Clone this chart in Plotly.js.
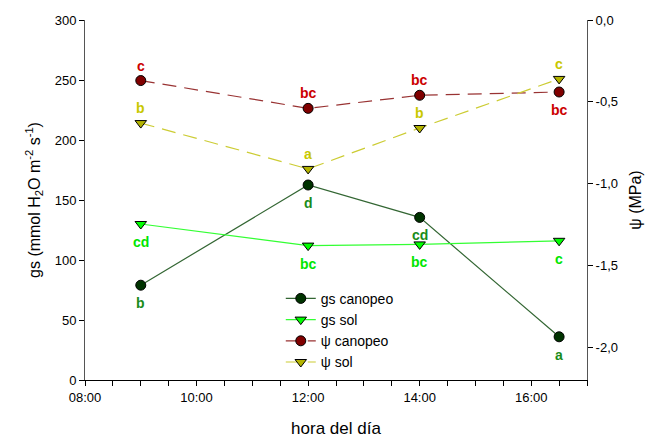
<!DOCTYPE html>
<html>
<head>
<meta charset="utf-8">
<script src="https://cdn.plot.ly/plotly-3.0.1.min.js"></script>
<style>html,body{margin:0;padding:0;background:#fff}#chart{width:657px;height:441px}</style>
</head>
<body>
<div id="chart"></div>
<script>
// --- data ---
var horas = ['2000-01-01 09:00', '2000-01-01 12:00', '2000-01-01 14:00', '2000-01-01 16:30'];
var gsCanopeo = [79, 162.5, 135.5, 36];
var gsSol = [130, 112, 113, 116];
var psiCanopeo = [-0.37, -0.54, -0.46, -0.44];
var psiSol = [-0.63, -0.91, -0.66, -0.36];

var letGsCanopeo = ['b', 'd', 'cd', 'a'];
var letGsSol = ['cd', 'bc', 'bc', 'c'];
var letPsiCanopeo = ['c', 'bc', 'bc', 'bc'];
var letPsiSol = ['b', 'a', 'b', 'c'];
// where each letter sits relative to its point
var posGsCanopeo = ['below', 'below', 'below', 'below'];
var posGsSol = ['below', 'below', 'below', 'below'];
var posPsiCanopeo = ['above', 'above', 'above', 'below'];
var posPsiSol = ['above', 'above', 'above', 'above'];

var y2Ticks = [0, -0.5, -1.0, -1.5, -2.0];
var y2TickText = ['0,0', '-0,5', '-1,0', '-1,5', '-2,0'];

// --- traces ---
var traces = [
  {x: horas, y: gsCanopeo, name: 'gs canopeo', mode: 'lines+markers', yaxis: 'y',
   line: {color: '#336633', width: 1.2},
   marker: {symbol: 'circle', size: 10, color: '#003300', line: {color: '#000', width: 1}}},
  {x: horas, y: gsSol, name: 'gs sol', mode: 'lines+markers', yaxis: 'y',
   line: {color: '#33ff33', width: 1.2},
   marker: {symbol: 'triangle-down', size: 10, color: '#00ff00', line: {color: '#000', width: 1}}},
  {x: horas, y: psiCanopeo, name: '\u03c8 canopeo', mode: 'lines+markers', yaxis: 'y2',
   line: {color: '#993333', width: 1.2, dash: '14px,8px'},
   marker: {symbol: 'circle', size: 10, color: '#800000', line: {color: '#000', width: 1}}},
  {x: horas, y: psiSol, name: '\u03c8 sol', mode: 'lines+markers', yaxis: 'y2',
   line: {color: '#cccc33', width: 1.2, dash: '14px,8px'},
   marker: {symbol: 'triangle-down', size: 10, color: '#b3b300', line: {color: '#000', width: 1}}}
];

// --- letter annotations ---
var annotations = [];
function addLetters(ys, letters, pos, color, yref) {
  for (var i = 0; i < ys.length; i++) {
    annotations.push({
      x: horas[i], y: ys[i], xref: 'x', yref: yref, text: letters[i], showarrow: false,
      yshift: pos[i] === 'above' ? 15 : -18,
      font: {family: 'Liberation Sans, Arial, sans-serif', size: 14, color: color, weight: 'bold'}
    });
  }
}
addLetters(gsCanopeo, letGsCanopeo, posGsCanopeo, '#1a8c1a', 'y');
addLetters(gsSol, letGsSol, posGsSol, '#00e600', 'y');
addLetters(psiCanopeo, letPsiCanopeo, posPsiCanopeo, '#cc0000', 'y2');
addLetters(psiSol, letPsiSol, posPsiSol, '#c8c800', 'y2');

var fontFam = 'Liberation Sans, Arial, sans-serif';
var layout = {
  width: 657, height: 441,
  margin: {l: 85, r: 70, t: 20, b: 61},
  paper_bgcolor: '#fff', plot_bgcolor: '#fff',
  font: {family: fontFam, size: 13, color: '#000'},
  showlegend: true,
  legend: {x: 0.39, y: 0.27, xanchor: 'left', yanchor: 'top', bgcolor: 'rgba(0,0,0,0)',
           font: {family: fontFam, size: 14}, tracegroupgap: 0},
  xaxis: {
    type: 'date', range: ['2000-01-01 08:00', '2000-01-01 17:00'],
    tickformat: '%H:%M', dtick: 7200000, tick0: '2000-01-01 08:00',
    ticks: 'outside', ticklen: 5, tickcolor: '#000', showgrid: false, zeroline: false,
    showline: true, linecolor: '#000', linewidth: 1,
    minor: {dtick: 1800000, ticks: 'outside', ticklen: 5, tickcolor: '#000', showgrid: false},
    tickfont: {size: 13},
    title: {text: 'hora del día', font: {size: 17}, standoff: 18}
  },
  yaxis: {
    range: [0, 300], dtick: 50, ticks: 'outside', ticklen: 5, tickcolor: '#000',
    showgrid: false, zeroline: false, showline: true, linecolor: '#555', linewidth: 1,
    tickfont: {size: 13},
    title: {text: 'gs (mmol H<sub>2</sub>O m<sup>-2</sup> s<sup>-1</sup>)', font: {size: 16}, standoff: 10}
  },
  yaxis2: {
    overlaying: 'y', side: 'right', range: [-2.2, 0],
    tickvals: y2Ticks, ticktext: y2TickText,
    ticks: 'outside', ticklen: 5, tickcolor: '#000',
    showgrid: false, zeroline: false, showline: true, linecolor: '#555', linewidth: 1,
    tickfont: {size: 13},
    title: {text: '\u03c8 (MPa)', font: {size: 16}, standoff: 12}
  },
  annotations: annotations
};

Plotly.newPlot('chart', traces, layout, {displayModeBar: false, staticPlot: true});
</script>
</body>
</html>
